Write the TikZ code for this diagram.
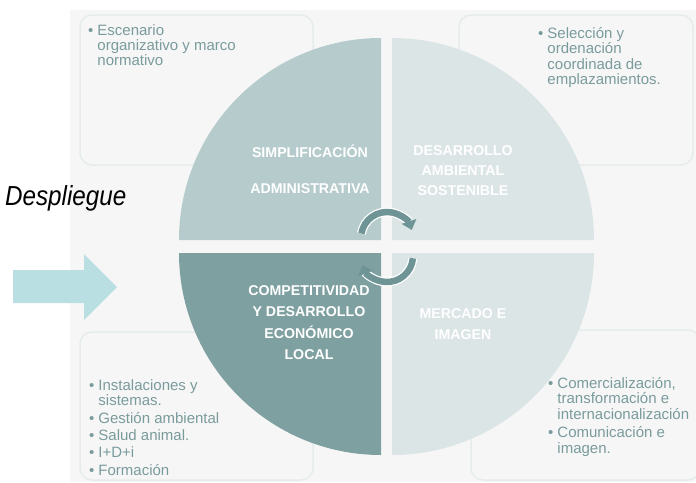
\documentclass[tikz,border=0pt]{standalone}
\usepackage{fontspec}
\setmainfont{Liberation Sans}
\newfontfamily\despfont[FakeStretch=0.88]{Liberation Sans}
\usetikzlibrary{arrows.meta}
\definecolor{bgc}{HTML}{F6F6F6}
\definecolor{qtl}{HTML}{B6CBCC}
\definecolor{qtr}{HTML}{DCE5E6}
\definecolor{qbl}{HTML}{7FA0A1}
\definecolor{qbr}{HTML}{DCE5E6}
\definecolor{circc}{HTML}{6E9496}
\definecolor{boxtxt}{HTML}{7A9B9C}
\definecolor{boxline}{HTML}{E6ECEC}
\definecolor{bigarrow}{HTML}{B9DFE2}
\tikzset{
  infobox/.style={draw=boxline, line width=1.5pt, rounded corners=12pt},
  quadhead/.style={text=white, font=\fontsize{14.2}{21}\selectfont\bfseries, inner sep=0pt, anchor=base},
  boxtext/.style={text=boxtxt, font=\fontsize{15}{15.2}\selectfont, inner sep=0pt, anchor=base west},
  circarrow/.style={draw=circc, line width=6.5pt, -{Triangle[width=15pt,length=9pt]},
    preaction={draw=white, line width=9pt, arrows=-, shorten >=8pt}},
}
\begin{document}
\begin{tikzpicture}[x=1pt,y=1pt]
\useasboundingbox (0,0) rectangle (696,-482);
\fill[white] (0,0) rectangle (696,-482);
% grey background
\fill[bgc] (70,-10) rectangle (696,-482);
% info boxes
\draw[infobox] (80,-15) rectangle (313,-165);
\draw[infobox] (459,-15) rectangle (693,-165);
\draw[infobox] (80,-332) rectangle (313,-480);
\draw[infobox] (471,-330) rectangle (700,-480);
% quadrants
\fill[qtl] (381,-240) -- (179,-240) arc[start angle=180,end angle=90,radius=202pt] -- cycle;
\fill[qtr] (392,-240) -- (392,-38) arc[start angle=90,end angle=0,radius=202pt] -- cycle;
\fill[qbl] (381,-253) -- (381,-455) arc[start angle=270,end angle=180,radius=202pt] -- cycle;
\fill[qbr] (392,-253) -- (594,-253) arc[start angle=0,end angle=-90,radius=202pt] -- cycle;
% headings
\node[quadhead] (hsa) at (310,-157) {\begin{tabular}[t]{@{}c@{}}SIMPLIFICACIÓN\\[15pt] ADMINISTRATIVA\end{tabular}};
\node[quadhead] (hdas) at (463,-155) {\begin{tabular}[t]{@{}c@{}}DESARROLLO\\[-1pt] AMBIENTAL\\[-1pt] SOSTENIBLE\end{tabular}};
\node[quadhead] (hcde) at (309,-295) {\begin{tabular}[t]{@{}c@{}}COMPETITIVIDAD\\[0.5pt] Y DESARROLLO\\[0.5pt] ECONÓMICO\\[0.5pt] LOCAL\end{tabular}};
\node[quadhead] (hmi) at (463,-318) {\begin{tabular}[t]{@{}c@{}}MERCADO E\\ IMAGEN\end{tabular}};
% circular arrows
\draw[circarrow] (387,-238) ++(170:26pt) arc[start angle=170,end angle=18,radius=26pt];
\draw[circarrow] (387,-256) ++(-5:26pt) arc[start angle=-5,end angle=-160,radius=26pt];
% box texts
\node[boxtext] (t1) at (88,-35) {\begin{tabular}[t]{@{}l@{\hspace{4pt}}l@{}}\textbullet & Escenario\\ & organizativo y marco\\ & normativo\end{tabular}};
\node[boxtext] (t2) at (538,-38) {\begin{tabular}[t]{@{}l@{\hspace{4pt}}l@{}}\textbullet & Selección y\\ & ordenación\\ & coordinada de\\ & emplazamientos.\end{tabular}};
\node[boxtext] (t3) at (89,-390) {\begin{tabular}[t]{@{}l@{\hspace{4pt}}l@{}}\textbullet & Instalaciones y\\ & sistemas.\\[2pt] \textbullet & Gestión ambiental\\[2pt] \textbullet & Salud animal.\\[2pt] \textbullet & I+D+i\\[2pt] \textbullet & Formación\end{tabular}};
\node[boxtext] (t4) at (548,-388) {\begin{tabular}[t]{@{}l@{\hspace{4pt}}l@{}}\textbullet & Comercialización,\\ & transformación e\\ & internacionalización\\[3pt] \textbullet & Comunicación e\\ & imagen.\end{tabular}};
% Despliegue
\node[font=\despfont\itshape\fontsize{27.5}{30}\selectfont, inner sep=0pt, anchor=base west] (desp) at (5,-205) {Despliegue};
% big arrow
\fill[bigarrow] (13,-270) -- (84,-270) -- (84,-254) -- (117,-287) -- (84,-320) -- (84,-303) -- (13,-303) -- cycle;
\end{tikzpicture}
\end{document}
